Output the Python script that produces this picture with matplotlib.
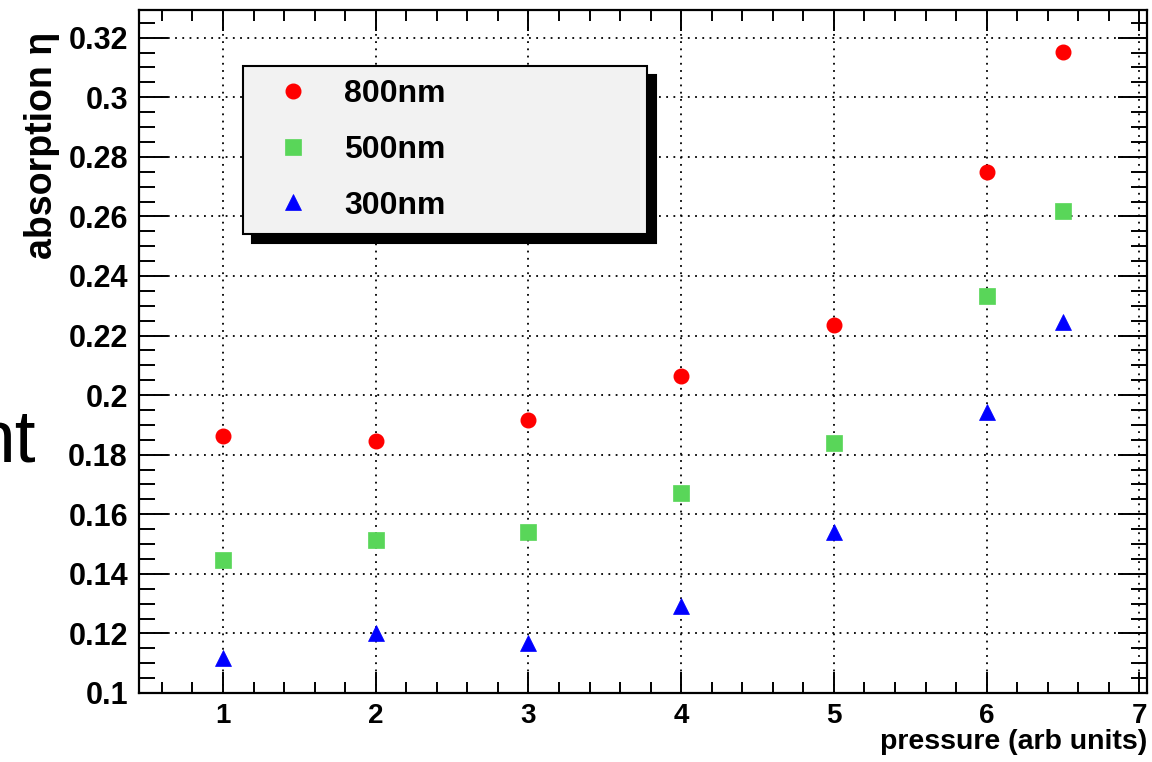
import matplotlib
matplotlib.use("Agg")
import matplotlib.pyplot as plt
from matplotlib.ticker import MultipleLocator, FuncFormatter

# ---- data ----
pressure = [1, 2, 3, 4, 5, 6, 6.5]
abs_800 = [0.1862, 0.1845, 0.1916, 0.2064, 0.2235, 0.2750, 0.3153]
abs_500 = [0.1448, 0.1512, 0.1541, 0.1670, 0.1840, 0.2334, 0.2619]
abs_300 = [0.1119, 0.1201, 0.1169, 0.1291, 0.1542, 0.1942, 0.2247]
series_labels = ["800nm", "500nm", "300nm"]
x_label = "pressure (arb units)"
y_label = "absorption η"
side_text = "nt"

plt.rcParams['font.family'] = ['Liberation Sans', 'DejaVu Sans']

W, H = 1152, 762
fig = plt.figure(figsize=(W / 100, H / 100), dpi=100)
L, R, T, B = 139, 1147, 10, 693
ax = fig.add_axes([L / W, (H - B) / H, (R - L) / W, (B - T) / H])

red, green, blue = '#ff0000', '#59d659', '#0000ff'
ax.plot(pressure, abs_800, linestyle='none', marker='o', ms=10.5, color=red,
        mec=red, label=series_labels[0], zorder=3)
ax.plot(pressure, abs_500, linestyle='none', marker='s', ms=11.5, color=green,
        mec=green, mew=0.5, label=series_labels[1], zorder=3)
ax.plot(pressure, abs_300, linestyle='none', marker='^', ms=12, color=blue,
        mec=blue, mew=0.5, label=series_labels[2], zorder=3)

ax.set_xlim(0.45, 7.05)
ax.set_ylim(0.1, 0.3293)

ax.xaxis.set_major_locator(MultipleLocator(1))
ax.xaxis.set_minor_locator(MultipleLocator(0.2))
ax.yaxis.set_major_locator(MultipleLocator(0.02))
ax.yaxis.set_minor_locator(MultipleLocator(0.005))
ax.yaxis.set_major_formatter(FuncFormatter(lambda v, p: f"{round(v, 3):g}"))
ax.xaxis.set_major_formatter(FuncFormatter(lambda v, p: f"{round(v, 3):g}"))

ax.tick_params(which='both', direction='in', top=True, right=True, width=1.4,
               color='black')
ax.tick_params(axis='x', which='major', length=15, labelsize=20, pad=7)
ax.tick_params(axis='x', which='minor', length=8)
ax.tick_params(axis='y', which='major', length=21, labelsize=22, pad=8)
ax.tick_params(axis='y', which='minor', length=11.5)
for lab in ax.get_xticklabels() + ax.get_yticklabels():
    lab.set_fontweight('bold')

for s in ax.spines.values():
    s.set_linewidth(1.6)
    s.set_color('black')

ax.set_axisbelow(True)
ax.grid(True, which='major', color='black', linestyle=(0, (1, 3)), linewidth=1.3)

ax.set_xlabel(x_label, fontsize=20.5, fontweight='bold', loc='right')
ax.xaxis.set_label_coords(1.0, -0.053)
ax.set_ylabel(y_label, fontsize=27, fontweight='bold', loc='top')
ax.yaxis.set_label_coords(-0.078, 0.968)

leg = ax.legend(loc='upper left', bbox_to_anchor=(0.1032, 0.675, 0.401, 0.243),
                mode='expand', borderaxespad=0, numpoints=1,
                prop={'weight': 'bold', 'size': 23},
                borderpad=0.42, handlelength=2.3, handletextpad=0.45,
                labelspacing=0.8, fancybox=False,
                facecolor='#f2f2f2', edgecolor='black', framealpha=1,
                shadow={'color': 'black', 'alpha': 1, 'ox': 6.5, 'oy': -6.5})
leg.get_frame().set_linewidth(1.5)

fig.text(36 / W, (H - 462) / H, side_text, fontsize=54, ha='right',
         va='baseline', color='black')

fig.savefig("out.png", dpi=100)
